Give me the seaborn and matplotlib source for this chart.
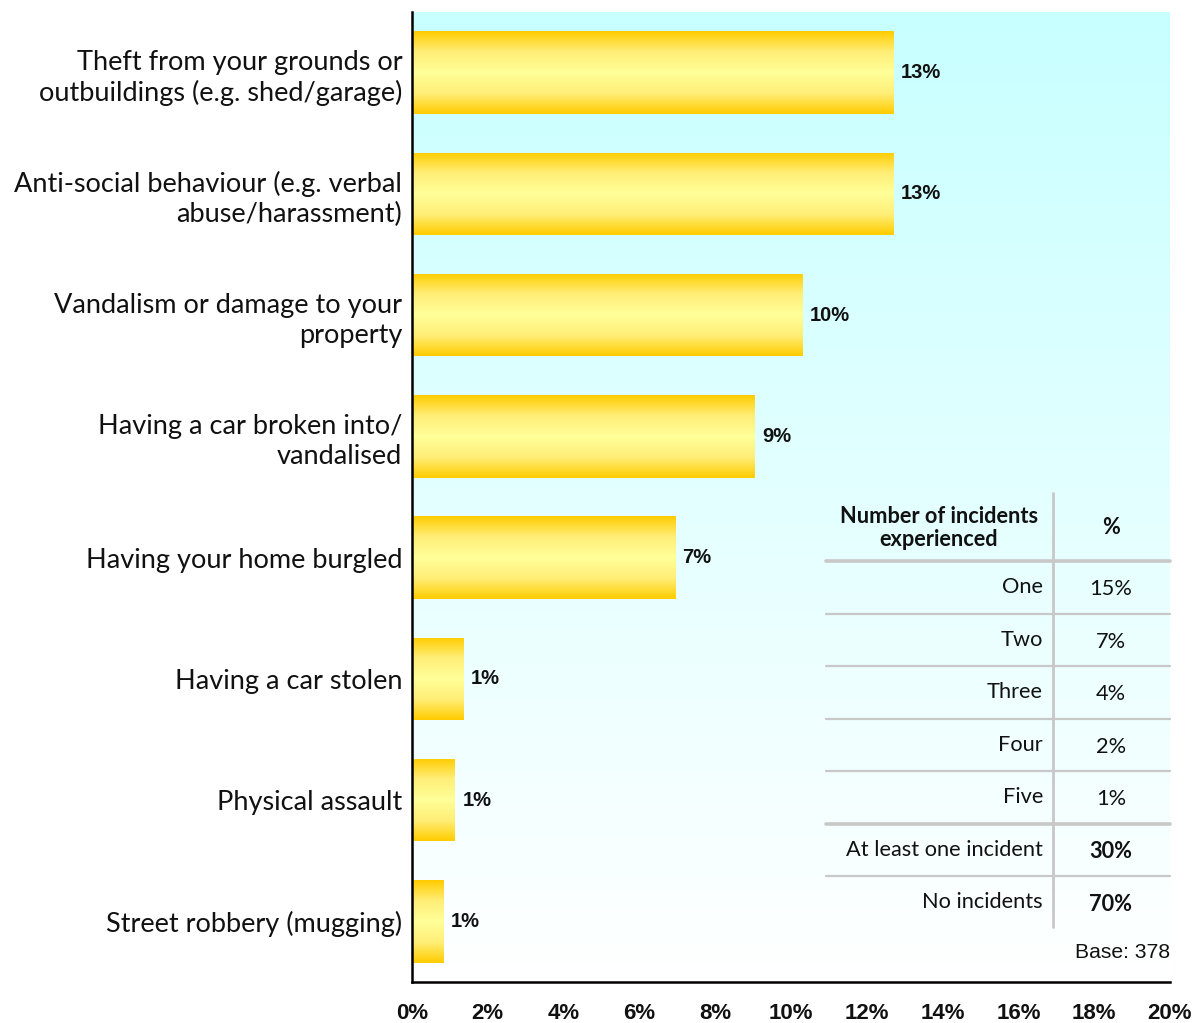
import numpy as np
import pandas as pd
import matplotlib
matplotlib.use("Agg")
import matplotlib.pyplot as plt
from matplotlib.colors import LinearSegmentedColormap
from matplotlib.lines import Line2D
import seaborn as sns

# Incident types and share of respondents (%)
categories = [
    "Theft from your grounds or\noutbuildings (e.g. shed/garage)",
    "Anti-social behaviour (e.g. verbal\nabuse/harassment)",
    "Vandalism or damage to your\nproperty",
    "Having a car broken into/\nvandalised",
    "Having your home burgled",
    "Having a car stolen",
    "Physical assault",
    "Street robbery (mugging)",
]
values = [12.7, 12.7, 10.3, 9.05, 6.94, 1.35, 1.13, 0.82]

# Number of incidents experienced
table_labels = ["One", "Two", "Three", "Four", "Five", "At least one incident", "No incidents"]
table_values = ["15%", "7%", "4%", "2%", "1%", "30%", "70%"]
table_bold = [False, False, False, False, False, True, True]
base_text = "Base: 378"

x_ticks = list(range(0, 21, 2))
x_ticklabels = [f"{t}%" for t in x_ticks]

W, H = 1199, 1023
sns.set_theme(style="white")
plt.rcParams["font.family"] = ["Lato", "DejaVu Sans"]

fig = plt.figure(figsize=(W / 100, H / 100), dpi=100)
fig.patch.set_facecolor("white")
ax = fig.add_axes([412 / W, 1 - 982 / H, (1170 - 412) / W, (982 - 12) / H])

df = pd.DataFrame({"category": categories, "value": values})
sns.barplot(data=df, x="value", y="category", orient="h", ax=ax,
            width=0.68, color="#FFCC00", edgecolor="none")

# Background: cyan fading to white from top to bottom
bg_cmap = LinearSegmentedColormap.from_list("bg", ["#C8FFFF", "#FFFFFF"])
ax.imshow(np.linspace(0, 1, 256).reshape(-1, 1), cmap=bg_cmap, aspect="auto",
          extent=(0, 20, 7.5, -0.5), zorder=0)

# Bars: golden edges with a pale yellow band through the middle
bar_cmap = LinearSegmentedColormap.from_list(
    "bar", ["#FFCC00", "#FFEE77", "#FFFF99", "#FFEE77", "#FFCC00"])
grad = np.linspace(0, 1, 256).reshape(-1, 1)
for patch, v in zip(ax.patches, values):
    x0, y0 = patch.get_x(), patch.get_y()
    w, h = patch.get_width(), patch.get_height()
    im = ax.imshow(grad, cmap=bar_cmap, aspect="auto",
                   extent=(x0, x0 + w, y0 + h, y0), zorder=2)
    im.set_clip_path(patch)
    patch.set_facecolor("none")
    ax.text(x0 + w + 0.2, y0 + h / 2, f"{v:.0f}%", va="center", ha="left",
            fontsize=14.5, fontweight="bold", family="Liberation Sans",
            color="#111111", zorder=3)

ax.set_xlim(0, 20)
ax.set_ylim(7.5, -0.5)
ax.set_xlabel("")
ax.set_ylabel("")
ax.set_xticks(x_ticks)
ax.set_xticklabels(x_ticklabels, fontsize=16, fontweight="bold",
                   family="Liberation Sans", color="#111111")
ax.tick_params(axis="x", direction="out", length=6, width=1.8, color="black", pad=9)
ax.tick_params(axis="y", length=0, pad=7, labelsize=19.5, labelcolor="#111111")
for lbl in ax.get_yticklabels():
    lbl.set_horizontalalignment("right")
    lbl.set_linespacing(1.27)
for side in ["top", "right"]:
    ax.spines[side].set_visible(False)
for side in ["left", "bottom"]:
    ax.spines[side].set_color("black")
    ax.spines[side].set_linewidth(1.8)

# Summary table of incident counts
def fx(px):
    return px / W

def fy(py):
    return 1 - py / H

grid_color = "#C8C8C8"
tbl_left, tbl_div, tbl_right = 826, 1053, 1170
head_top, head_bottom, row_h = 493, 561, 52.5
n_rows = len(table_labels)
table_bottom = head_bottom + n_rows * row_h

fig.add_artist(Line2D([fx(tbl_div)] * 2, [fy(head_top), fy(table_bottom - 2)],
                      color=grid_color, lw=2, transform=fig.transFigure))
for i in range(n_rows):
    yline = head_bottom + i * row_h
    fig.add_artist(Line2D([fx(tbl_left), fx(tbl_right)], [fy(yline)] * 2,
                          color=grid_color, lw=2.6 if i in (0, 5) else 1.6,
                          transform=fig.transFigure))

fig.text(fx(939), fy((head_top + head_bottom) / 2 + 1), "Number of incidents\nexperienced",
         ha="center", va="center", fontsize=15.7, fontweight="bold", color="#111111",
         linespacing=1.1)
fig.text(fx(1111), fy((head_top + head_bottom) / 2 + 1), "%", ha="center", va="center",
         fontsize=15.7, fontweight="bold", color="#111111")

for i, (lab, val, bold) in enumerate(zip(table_labels, table_values, table_bold)):
    yc = head_bottom + (i + 0.5) * row_h
    fig.text(fx(1043), fy(yc), lab, ha="right", va="center", fontsize=15.7, color="#111111")
    fig.text(fx(1111), fy(yc + 2), val, ha="center", va="center", fontsize=15.7,
             fontweight="bold" if bold else "normal", color="#111111")

fig.text(fx(1170), fy(952), base_text, ha="right", va="center", fontsize=15.2,
         family="Liberation Sans", color="#111111")

fig.savefig("out.png", dpi=100)
